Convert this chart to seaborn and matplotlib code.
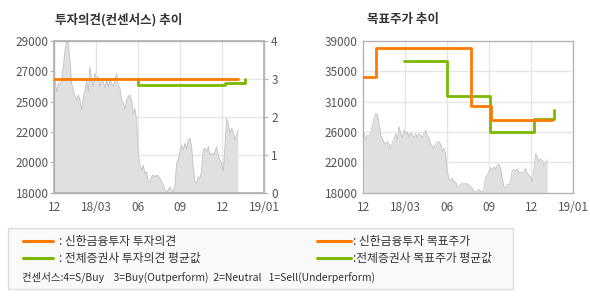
import numpy as np
import pandas as pd
import matplotlib
matplotlib.use("Agg")
import matplotlib.pyplot as plt
from matplotlib.lines import Line2D
from matplotlib.patches import Rectangle
import seaborn as sns

sns.set_theme(style="white")
plt.rcParams['font.family'] = ['Noto Sans CJK KR', 'DejaVu Sans']

# ---------------- data ----------------
x_tick_pos = [0, 3, 6, 9, 12, 15]
x_tick_labels = ['12', '18/03', '06', '09', '12', '19/01']

left_title = '투자의견(컨센서스) 추이'
right_title = '목표주가 추이'

price = [26170, 25330, 25930, 25810, 26290, 27140, 28340, 28950, 28830, 27620,
         25930, 25450, 24960, 24720, 25080, 24720, 24000, 24960, 25450, 26170,
         25330, 27140, 26170, 25690, 26650, 26170, 26410, 25690, 26290, 26050,
         25570, 26170, 25690, 26170, 25930, 25690, 26170, 26650, 25810, 25570,
         24720, 24480, 24120, 24720, 24960, 25080, 24720, 23750, 24120, 23270,
         20850, 20010, 19640, 20010, 19400, 19520, 18800, 18800, 19160, 19280,
         19160, 19280, 19210, 19040, 18800, 18560, 18190, 18070, 18190, 18440,
         18190, 18070, 18560, 20130, 20370, 20970, 21460, 21090, 21580, 21220,
         21820, 21940, 21340, 19890, 18800, 18680, 19160, 19040, 19640, 21090,
         21220, 20970, 21340, 20730, 20850, 20730, 20970, 21340, 20730, 20370,
         20130, 19520, 21340, 23390, 23030, 22300, 22670, 22420, 21820, 22180,
         22550]
price_start, price_end = 0.05, 13.14   # months after Dec 2017

# consensus (left chart, right axis)
shinhan_op_x = [0, 13.1]
shinhan_op_y = [3, 3]
avg_op_x = [6, 6, 12.2, 13.6]
avg_op_y = [3.0, 2.83, 2.89, 3.0]

# target price (right chart)
shinhan_tp_x = [0, 0.9, 7.7, 9.1, 13.5]
shinhan_tp_y = [34000, 38000, 30000, 28100, 28100]
avg_tp_x = [2.9, 6.0, 9.05, 12.2, 13.6]
avg_tp_y = [36300, 31400, 26450, 28250, 29450]

left_yticks = [18000, 20200, 22400, 24600, 26800, 29000]
left_ylabels = ['18000', '20000', '22000', '25000', '27000', '29000']
right_yticks = [18000, 22200, 26400, 30600, 34800, 39000]
right_ylabels = ['18000', '22000', '26000', '31000', '35000', '39000']
op_ticks = [0, 1, 2, 3, 4]

legend_items = [': 신한금융투자 투자의견', ': 전체증권사 투자의견 평균값',
                ': 신한금융투자 목표주가', ':전체증권사 목표주가 평균값']
consensus_note = '컨센서스:4=S/Buy    3=Buy(Outperform)  2=Neutral   1=Sell(Underperform)'

# ---------------- styling ----------------
ORANGE = '#ff7a00'
GREEN = '#7cb800'
SPINE = '#b4b4b4'
GRID = '#e6e6e6'
TXT = '#555555'
AREA = '#e0e0e0'
AREA_EDGE = '#c2c2c2'

W, H = 590, 300
fig = plt.figure(figsize=(W / 100, H / 100), dpi=100)
fig.patch.set_facecolor('white')

def fx(px):
    return px / W

def fy(py):
    return 1 - py / H

ax_w = 210 / W
ax_h = (192.7 - 41) / H
axL = fig.add_axes([fx(54.3), fy(192.7), ax_w, ax_h])
axR = fig.add_axes([fx(363.3), fy(192.7), ax_w, ax_h])

px = np.linspace(price_start, price_end, len(price))
df_price = pd.DataFrame({'m': px, 'price': price})

def style_axes(ax):
    for s in ax.spines.values():
        s.set_color(SPINE)
        s.set_linewidth(1.0)
    ax.set_xlim(0, 15)
    ax.set_xticks(x_tick_pos)
    ax.set_xticklabels(x_tick_labels)
    ax.tick_params(axis='x', length=3, width=0.8, color=SPINE, pad=3,
                   labelsize=8.5, labelcolor=TXT)
    ax.tick_params(axis='y', length=3, width=0.8, color=SPINE, pad=1,
                   labelsize=8.5, labelcolor=TXT)
    ax.set_xlabel('')
    ax.set_ylabel('')
    for xv in x_tick_pos[1:-1]:
        ax.axvline(xv, color=GRID, lw=1.0, zorder=0.5)

def draw_price(ax):
    ax.fill_between(df_price['m'], 0, df_price['price'], color=AREA, lw=0, zorder=1)
    sns.lineplot(data=df_price, x='m', y='price', ax=ax, color=AREA_EDGE,
                 lw=0.6, sort=False, estimator=None, zorder=1.5)

# ----- left chart -----
style_axes(axL)
draw_price(axL)
axL.set_ylim(18000, 29000)
axL.set_yticks(left_yticks)
axL.set_yticklabels(left_ylabels)
axL.set_xlim(0, 15)
axL.set_xlabel(''); axL.set_ylabel('')

axL2 = axL.twinx()
axL2.set_ylim(0, 4)
axL2.set_yticks(op_ticks)
axL2.set_yticklabels([str(t) for t in op_ticks])
for s in axL2.spines.values():
    s.set_color(SPINE)
axL2.tick_params(axis='y', length=3, width=0.8, color=SPINE, pad=2,
                 labelsize=8.5, labelcolor=TXT)
for yv in op_ticks[1:-1]:
    axL.axhline(18000 + yv / 4 * 11000, color=GRID, lw=1.0, zorder=0.5)
sns.lineplot(x=shinhan_op_x, y=shinhan_op_y, ax=axL2, color=ORANGE, lw=2.0,
             sort=False, estimator=None, drawstyle='steps-post', zorder=3)
sns.lineplot(x=avg_op_x, y=avg_op_y, ax=axL2, color=GREEN, lw=2.0,
             sort=False, estimator=None, drawstyle='steps-post', zorder=2)
axL2.set_xlim(0, 15)
axL2.set_ylabel('')

# ----- right chart -----
style_axes(axR)
draw_price(axR)
axR.set_ylim(18000, 39000)
axR.set_yticks(right_yticks)
axR.set_yticklabels(right_ylabels)
for yv in right_yticks[1:-1]:
    axR.axhline(yv, color=GRID, lw=1.0, zorder=0.5)
sns.lineplot(x=avg_tp_x, y=avg_tp_y, ax=axR, color=GREEN, lw=2.0,
             sort=False, estimator=None, drawstyle='steps-post', zorder=2)
sns.lineplot(x=shinhan_tp_x, y=shinhan_tp_y, ax=axR, color=ORANGE, lw=2.0,
             sort=False, estimator=None, drawstyle='steps-post', zorder=3)
axR.set_xlim(0, 15)
axR.set_xlabel(''); axR.set_ylabel('')

# titles
fig.text(fx(55), fy(20), left_title, fontsize=9, fontweight='bold',
         color='#333333', va='center', ha='left')
fig.text(fx(367), fy(20), right_title, fontsize=9, fontweight='bold',
         color='#333333', va='center', ha='left')

# legend box
fig.patches.append(Rectangle((fx(7.5), fy(289)), fx(505), (289 - 227.5) / H,
                             transform=fig.transFigure, facecolor='#f9f9f9',
                             edgecolor='#dddddd', lw=1.0, zorder=0))
legend_pos = [(23, 53, 59, 241, ORANGE), (23, 53, 59, 258, GREEN),
              (317, 351, 353, 241, ORANGE), (317, 351, 353, 258, GREEN)]
for (x0, x1, tx, yy, col), label in zip(legend_pos, legend_items):
    fig.add_artist(Line2D([fx(x0), fx(x1)], [fy(yy), fy(yy)], color=col, lw=2.2,
                          transform=fig.transFigure))
    fig.text(fx(tx), fy(yy), label, fontsize=8.5, color='#333333',
             va='center', ha='left')
fig.text(fx(22), fy(277), consensus_note, fontsize=7.5, color='#333333',
         va='center', ha='left')

fig.savefig('out.png', dpi=100, facecolor='white')
